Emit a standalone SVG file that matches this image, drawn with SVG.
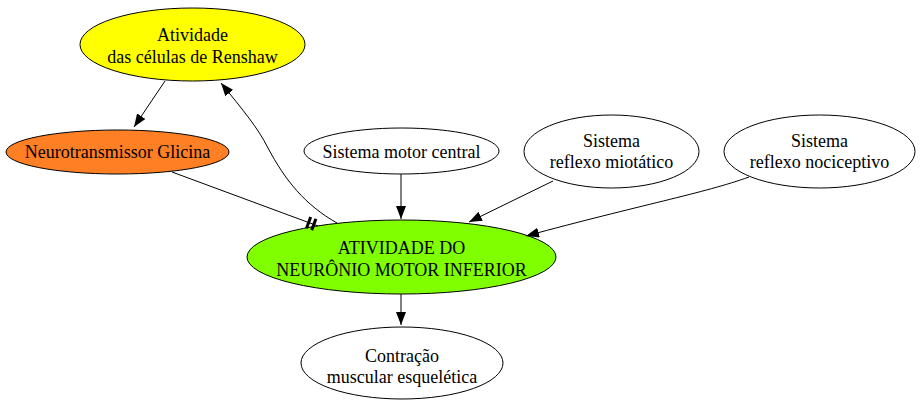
<svg xmlns="http://www.w3.org/2000/svg" width="920" height="408" viewBox="0 0 920 408">
<style>
.n{stroke:#000;stroke-width:1}
.t{font-family:"Liberation Serif","Times New Roman",serif;font-size:18px;fill:#000;text-anchor:middle}
.e{fill:none;stroke:#000;stroke-width:1}
.tee{fill:none;stroke:#000;stroke-width:3}
</style>
<defs>
<marker id="arr" viewBox="0 0 13 10" refX="13" refY="5" markerWidth="13" markerHeight="10" markerUnits="userSpaceOnUse" orient="auto">
<path d="M0,0 L13,5 L0,10 Z" fill="#000"/>
</marker>
</defs>
<rect width="920" height="408" fill="#fff"/>
<g id="renshaw">
<ellipse class="n" cx="192.5" cy="44.5" rx="112.5" ry="36.5" fill="#ffff00"/>
<text class="t" x="192.5" y="41">Atividade</text>
<text class="t" x="192.5" y="63">das células de Renshaw</text>
</g>
<g id="glicina">
<ellipse class="n" cx="117.5" cy="152" rx="111.5" ry="22" fill="#ff7f24"/>
<text class="t" x="117.5" y="157.5">Neurotransmissor Glicina</text>
</g>
<g id="motor_central">
<ellipse class="n" cx="401.5" cy="151" rx="97.5" ry="23" fill="#fff"/>
<text class="t" x="401.5" y="157.5">Sistema motor central</text>
</g>
<g id="miotatico">
<ellipse class="n" cx="611.5" cy="151.5" rx="87.5" ry="36.5" fill="#fff"/>
<text class="t" x="611.5" y="147">Sistema</text>
<text class="t" x="611.5" y="168">reflexo miotático</text>
</g>
<g id="nociceptivo">
<ellipse class="n" cx="819.5" cy="151.5" rx="95.5" ry="36.5" fill="#fff"/>
<text class="t" x="819.5" y="147">Sistema</text>
<text class="t" x="819.5" y="168">reflexo nociceptivo</text>
</g>
<g id="neuronio">
<ellipse class="n" cx="401.5" cy="257" rx="154.5" ry="37" fill="#7fff00"/>
<text class="t" x="401.5" y="254">ATIVIDADE DO</text>
<text class="t" x="401.5" y="276">NEURÔNIO MOTOR INFERIOR</text>
</g>
<g id="contracao">
<ellipse class="n" cx="402" cy="363" rx="101" ry="36" fill="#fff"/>
<text class="t" x="402" y="362">Contração</text>
<text class="t" x="402" y="383">muscular esquelética</text>
</g>
<g id="edges">
<path class="e" d="M165,81 L134,127" marker-end="url(#arr)"/>
<path class="e" d="M337,223 C305,205 285,180 268,148 C258,128 243,110 221,83" marker-end="url(#arr)"/>
<path class="e" d="M172,172 L318,226"/>
<path class="tee" d="M310.7,217 L306.5,228.2 M315.9,218.9 L311.7,230.1"/>
<path class="e" d="M401,174 L401,219" marker-end="url(#arr)"/>
<path class="e" d="M553,181 L469,222" marker-end="url(#arr)"/>
<path class="e" d="M749,177 C705,193 640,205 526,236" marker-end="url(#arr)"/>
<path class="e" d="M401,294 L401,325" marker-end="url(#arr)"/>
</g>
</svg>
